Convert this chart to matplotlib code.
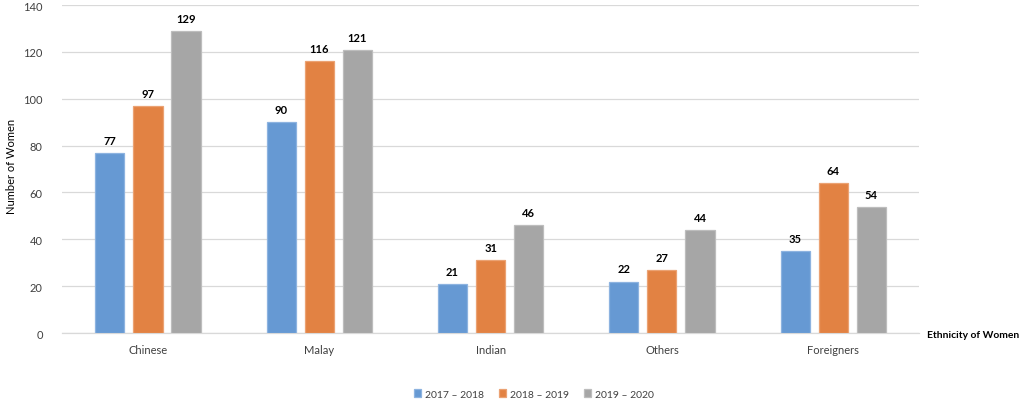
import matplotlib.pyplot as plt
import numpy as np

plt.rcParams['font.family'] = ['Lato', 'DejaVu Sans']

categories = ["Chinese", "Malay", "Indian", "Others", "Foreigners"]
series_names = ["2017 \u2013 2018", "2018 \u2013 2019", "2019 \u2013 2020"]
v2017 = [77, 90, 21, 22, 35]
v2018 = [97, 116, 31, 27, 64]
v2019 = [129, 121, 46, 44, 54]
yticks = [0, 20, 40, 60, 80, 100, 120, 140]

colors = ["#6699D3", "#E28243", "#A6A6A6"]
edges = ["#8DB3E0", "#EBA273", "#BDBDBD"]

fig = plt.figure(figsize=(10.21, 4.02), dpi=100)
ax = fig.add_axes([0.061, 0.169, 0.839, 0.816])

x = np.arange(len(categories))
w = 0.17
offs = [-0.222, 0, 0.222]
for vals, name, c, e, o in zip([v2017, v2018, v2019], series_names, colors, edges, offs):
    bars = ax.bar(x + o, vals, w, color=c, edgecolor=e, linewidth=0.9, label=name, zorder=3)
    for b, v in zip(bars, vals):
        ax.text(b.get_x() + b.get_width() / 2, v + 3, str(v), ha="center", va="bottom",
                fontsize=8, fontweight="bold", color="#000000")

ax.set_xlim(-0.5, len(categories) - 0.5)
ax.set_ylim(0, 140)
ax.set_yticks(yticks)
ax.set_xticks(x)
ax.set_xticklabels(categories)
ax.tick_params(axis="both", length=0, labelsize=8, colors="#404040")
ax.tick_params(axis="x", pad=8)
ax.tick_params(axis="y", pad=14)
ax.grid(axis="y", color="#D9D9D9", linewidth=0.9, zorder=0)
for s in ["top", "right", "left"]:
    ax.spines[s].set_visible(False)
ax.spines["bottom"].set_color("#D9D9D9")
ax.spines["bottom"].set_linewidth(0.9)

fig.text(0.011, 0.585, "Number of Women", rotation=90, ha="center", va="center", fontsize=8, color="#000000")
fig.text(0.908, 1 - 336 / 402, "Ethnicity of Women", ha="left", va="center", fontsize=7.4,
         fontweight="bold", color="#000000")

leg = fig.legend(loc="center", bbox_to_anchor=(0.523, 1 - 395 / 402), ncol=3, frameon=False,
                 fontsize=7.5, handlelength=0.7, handleheight=0.7, columnspacing=1.4, handletextpad=0.4)
for t in leg.get_texts():
    t.set_color("#404040")

fig.savefig("out.png", dpi=100)
